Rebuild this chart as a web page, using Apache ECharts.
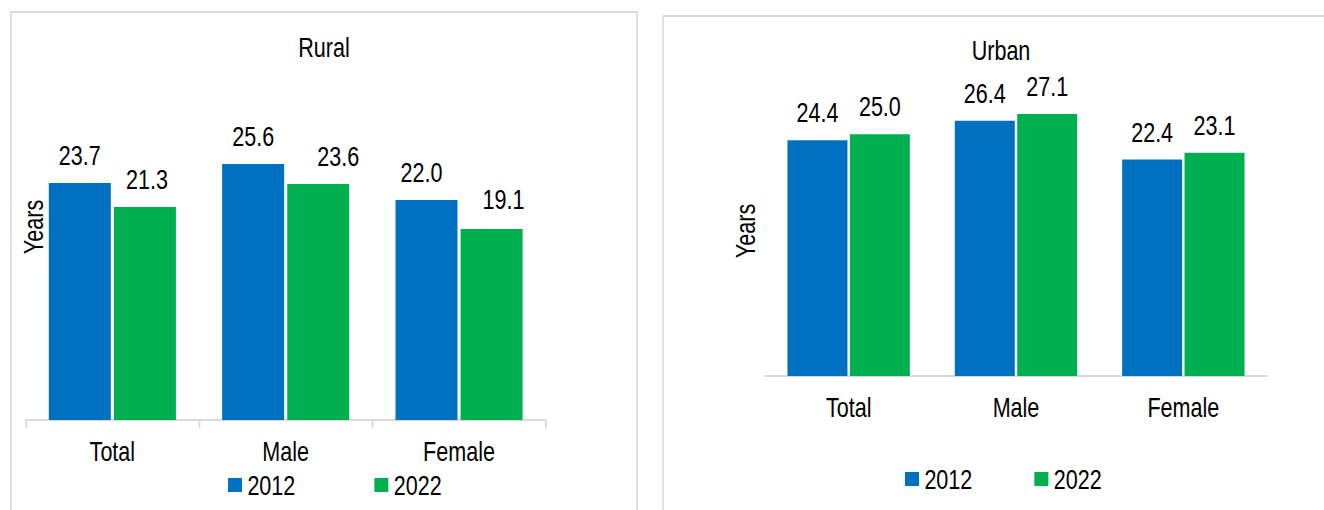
<!DOCTYPE html>
<html>
<head>
<meta charset="utf-8">
<script src="https://cdn.jsdelivr.net/npm/echarts@6/dist/echarts.min.js"></script>
<style>
html,body{margin:0;padding:0;background:#fff;overflow:hidden;width:1324px;height:510px;}
#wrap{width:1324px;height:510px;overflow:hidden;position:relative;}
#c{width:1720px;height:510px;transform:scaleX(0.77);transform-origin:0 0;position:absolute;left:0;top:0;}
</style>
</head>
<body>
<div id="wrap"><div id="c"></div></div>
<script>
const categories = ['Total', 'Male', 'Female'];
const seriesNames = ['2012', '2022'];
const rural2012 = [23.7, 25.6, 22.0];
const rural2022 = [21.3, 23.6, 19.1];
const urban2012 = [24.4, 26.4, 22.4];
const urban2022 = [25.0, 27.1, 23.1];
const panelTitles = ['Rural', 'Urban'];
const axisTitle = 'Years';

// The reference uses a condensed typeface; emulate it by squeezing the whole
// drawing horizontally (K) and laying it out in unsqueezed coordinates.
const K = 0.77;
const X = v => v / K;
const FONT = "'Liberation Sans', Arial, sans-serif";
const FS = 28;
const BLUE = '#0070C0', GREEN = '#00B050';
const chart = echarts.init(document.getElementById('c'), null, { renderer: 'svg' });

// per-label nudges (screen px) seen in the reference's rural panel
const ruralLabelShift2012 = [[0, 0], [0, 0], [-5, 0]];
const ruralLabelShift2022 = [[2, 0], [20, 0], [12, -2]];

function barSeries(name, data, idx, color, bw, gap, shifts) {
  return {
    name: name, type: 'bar', xAxisIndex: idx, yAxisIndex: idx,
    data: data.map((v, i) => shifts ? { value: v, label: { offset: [X(shifts[i][0]), shifts[i][1]] } } : v),
    barWidth: X(bw), barGap: gap,
    itemStyle: { color: color },
    label: {
      show: true, position: 'top', distance: 14,
      formatter: p => Number(p.value).toFixed(1),
      fontFamily: FONT, fontSize: FS, color: '#000'
    },
    emphasis: { disabled: true }
  };
}

const titleStyle = { fontFamily: FONT, fontSize: FS, fontWeight: 'normal', color: '#000' };
const legendBase = {
  data: seriesNames, padding: 0, itemWidth: X(14), itemHeight: 14, icon: 'rect',
  textStyle: { fontFamily: FONT, fontSize: FS, color: '#000', padding: [0, 0, 0, 2] }
};

const option = {
  animation: false,
  textStyle: { fontFamily: FONT },
  title: [
    { text: panelTitles[0], left: X(324) - 33.4, top: 33, padding: 0, textStyle: titleStyle },
    { text: panelTitles[1], left: X(1001) - 38.1, top: 36, padding: 0, textStyle: titleStyle }
  ],
  legend: [
    Object.assign({}, legendBase, { left: X(228), top: 471, itemGap: X(79) }),
    Object.assign({}, legendBase, { left: X(905), top: 465, itemGap: X(62) })
  ],
  grid: [
    { left: X(25.7), top: 120, width: X(520), height: 300 },
    { left: X(765), top: 86, width: X(502), height: 290 }
  ],
  xAxis: [
    { type: 'category', gridIndex: 0, data: categories,
      axisLine: { lineStyle: { color: '#d9d9d9', width: 2 } },
      axisTick: { show: true, length: 8, lineStyle: { color: '#d9d9d9', width: 2.4 } },
      axisLabel: { fontFamily: FONT, fontSize: FS, color: '#000', margin: 17 } },
    { type: 'category', gridIndex: 1, data: categories,
      axisLine: { lineStyle: { color: '#d9d9d9', width: 2 } },
      axisTick: { show: false },
      axisLabel: { fontFamily: FONT, fontSize: FS, color: '#000', margin: 17 } }
  ],
  yAxis: [
    { type: 'value', gridIndex: 0, min: 0, max: 30, show: false },
    { type: 'value', gridIndex: 1, min: 0, max: 30, show: false }
  ],
  series: [
    barSeries(seriesNames[0], rural2012, 0, BLUE, 62, '5%', ruralLabelShift2012),
    barSeries(seriesNames[1], rural2022, 0, GREEN, 62, '5%', ruralLabelShift2022),
    barSeries(seriesNames[0], urban2012, 1, BLUE, 60, '4%'),
    barSeries(seriesNames[1], urban2022, 1, GREEN, 60, '4%')
  ],
  graphic: [
    { type: 'rect', shape: { x: X(11), y: 12, width: X(626), height: 520 }, style: { fill: 'none', stroke: '#d9d9d9', lineWidth: 2 }, silent: true },
    { type: 'rect', shape: { x: X(663), y: 16, width: X(700), height: 520 }, style: { fill: 'none', stroke: '#d9d9d9', lineWidth: 2 }, silent: true },
    { type: 'text', x: X(33), y: 227, rotation: Math.PI / 2, scaleX: K, scaleY: 1 / K,
      style: { text: axisTitle, font: FS + "px " + FONT, fill: '#000', textAlign: 'center', textVerticalAlign: 'middle' } },
    { type: 'text', x: X(745), y: 231, rotation: Math.PI / 2, scaleX: K, scaleY: 1 / K,
      style: { text: axisTitle, font: FS + "px " + FONT, fill: '#000', textAlign: 'center', textVerticalAlign: 'middle' } }
  ]
};
chart.setOption(option);
</script>
</body>
</html>
